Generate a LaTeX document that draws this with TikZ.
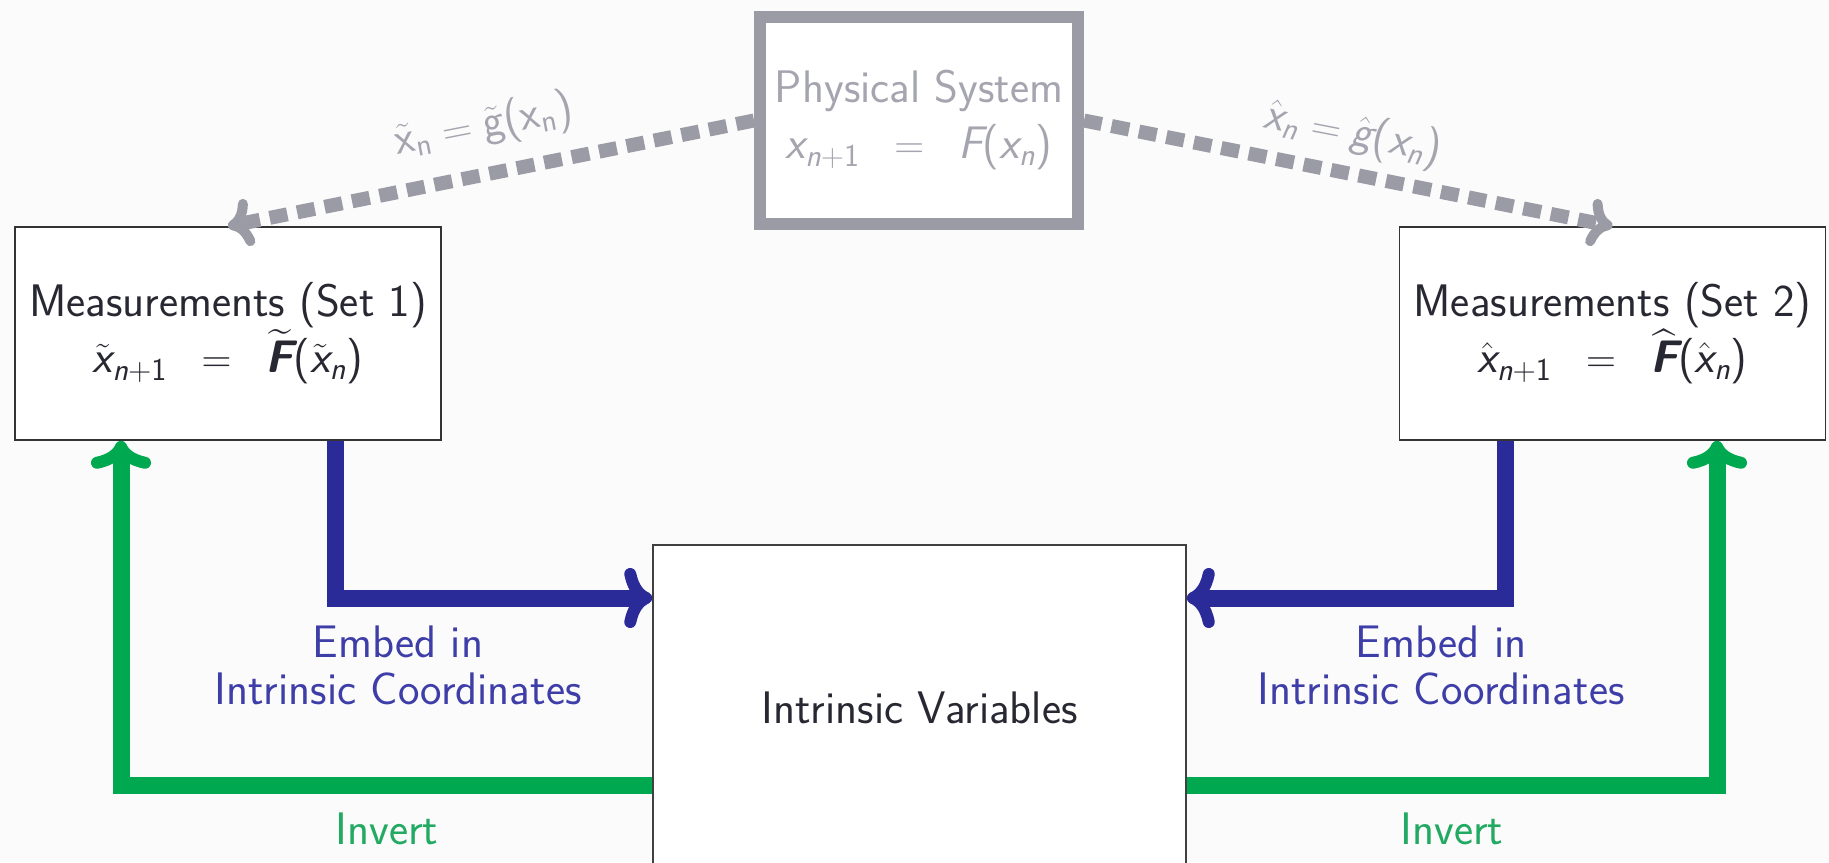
\documentclass[tikz,border=0pt]{standalone}
\usepackage{amsmath}
\usetikzlibrary{arrows.meta}
\definecolor{embedblue}{RGB}{42,42,152}
\definecolor{embedtext}{RGB}{62,62,168}
\definecolor{invgreen}{RGB}{0,168,80}
\definecolor{invtext}{RGB}{34,170,98}
\definecolor{psgray}{RGB}{155,155,166}
\definecolor{pstext}{RGB}{165,165,176}
\definecolor{boxtext}{RGB}{40,40,50}
\definecolor{bgcol}{RGB}{251,251,251}
\newcommand{\si}[1]{\text{\sffamily\itshape #1}}
\newcommand{\su}[1]{\text{\sffamily #1}}
\newcommand{\sbi}[1]{\text{\sffamily\bfseries\itshape #1}}
\newcommand{\wideeq}{\hspace{0.75em}{=}\hspace{0.75em}}
\begin{document}
\begin{tikzpicture}[x=0.5pt,y=-0.5pt,
  every node/.style={font=\sffamily\fontsize{22.8}{28}\selectfont},
  mbox/.style={draw=black!80, line width=0.75pt, fill=white, minimum width=213pt, minimum height=106.5pt, align=center, text=boxtext, inner sep=0pt},
  psbox/.style={draw=psgray, line width=6pt, fill=white, minimum width=159pt, minimum height=103.5pt, align=center, text=pstext, inner sep=0pt},
  ivbox/.style={draw=black!75, line width=0.75pt, fill=white, minimum width=266.5pt, minimum height=163pt, text=boxtext, inner sep=0pt},
  embed/.style={draw=embedblue, line width=8.5pt, -{Computer Modern Rightarrow[length=14pt,width=30pt,line width=6pt]}},
  invert/.style={draw=invgreen, line width=8.5pt, -{Computer Modern Rightarrow[length=14pt,width=30pt,line width=6pt]}},
  measure/.style={draw=psgray, line width=7pt, dash pattern=on 9pt off 5pt, -{Computer Modern Rightarrow[length=12pt,width=24pt,line width=5pt]}},
  embedlab/.style={text=embedtext, align=center, font=\sffamily\fontsize{22.8}{23.5}\selectfont},
  invlab/.style={text=invtext},
  measlab/.style={text=pstext, inner sep=0pt}
]
\useasboundingbox (0,0) rectangle (1829,862);
\clip (0,0) rectangle (1829,862);
\fill[bgcol] (0,0) rectangle (1829,862);

% nodes
\node[psbox] (ps) at (919,120.5) {Physical System\\ $\si{x}_{\si{n}\su{+1}}\wideeq\si{F}\su{(}\si{x}_{\si{n}}\su{)}$};
\node[mbox] (m1) at (228,333.5) {Measurements (Set 1)\\ $\tilde{\si{x}}_{\si{n}\su{+1}}\wideeq\widetilde{\sbi{F}}\su{(}\tilde{\si{x}}_{\si{n}}\su{)}$};
\node[mbox] (m2) at (1612.5,333.5) {Measurements (Set 2)\\ $\hat{\si{x}}_{\si{n}\su{+1}}\wideeq\widehat{\sbi{F}}\su{(}\hat{\si{x}}_{\si{n}}\su{)}$};
\node[ivbox] (iv) at (919.5,708) {Intrinsic Variables};

% helper coordinates
\coordinate (b1) at (335,598);
\coordinate (b2) at (1505,598);
\coordinate (g1) at (121,785);
\coordinate (g2) at (1717,785);

% measurement arrows
\draw[measure] (ps.west) -- (m1.north);
\draw[measure] (ps.east) -- (m2.north);
\node[measlab, rotate=11] (l1) at (484,126) {$\tilde{\su{x}}_{\su{n}} = \tilde{\su{g}}\su{(}\su{x}_{\su{n}}\su{)}$};
\node[measlab, rotate=-11] (l2) at (1353,134) {$\hat{\si{x}}_{\si{n}} = \hat{\si{g}}\su{(}\si{x}_{\si{n}}\su{)}$};

% embed arrows
\draw[embed] (m1.south -| b1) |- (iv.west |- b1);
\draw[embed] (m2.south -| b2) |- (iv.east |- b2);
\node[embedlab] (e1) at (398,665) {Embed in\\Intrinsic Coordinates};
\node[embedlab] (e2) at (1441,665) {Embed in\\Intrinsic Coordinates};

% invert arrows
\draw[invert] (iv.west |- g1) -| (m1.south -| g1);
\draw[invert] (iv.east |- g2) -| (m2.south -| g2);
\node[invlab] (i1) at (387,829) {Invert};
\node[invlab] (i2) at (1452,829) {Invert};
\end{tikzpicture}
\end{document}
